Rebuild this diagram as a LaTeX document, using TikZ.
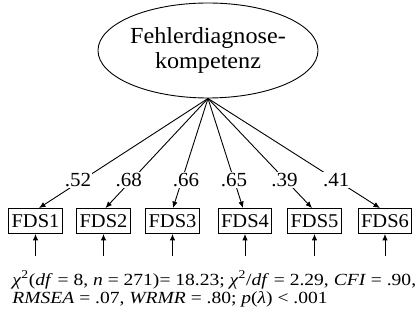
\documentclass[tikz,border=0pt]{standalone}
\usepackage{fontspec}
\setmainfont{Liberation Serif}[FakeStretch=1.05]
\newfontfamily\fitfont{Liberation Serif}[FakeStretch=1.15]
\usetikzlibrary{shapes.geometric,arrows.meta}
\begin{document}
\begin{tikzpicture}[x=1pt,y=-1pt,
  line width=0.9pt,
  tip/.style={-{Latex[length=6.5pt,width=5.5pt]}},
  latent/.style={draw,ellipse,minimum width=200pt,minimum height=95pt,inner sep=0pt,
    align=center,font=\fontsize{23}{25}\selectfont},
  indicator/.style={draw,rectangle,minimum height=25pt,inner xsep=3pt,inner ysep=0pt,
    font=\fontsize{19.5}{21}\selectfont},
  loading/.style={fill=white,inner sep=1pt,font=\fontsize{20}{22}\selectfont},
  fit/.style={anchor=base west,inner sep=0pt,font=\fitfont\fontsize{17}{19}\selectfont}]
\useasboundingbox (0,0) rectangle (420,320);

% latent factor
\node[latent] (lat) at (208,50.5) {Fehlerdiagnose-\\kompetenz};

% indicators
\node[indicator] (f1) at (35.5,221) {FDS1};
\node[indicator] (f2) at (103.5,221) {FDS2};
\node[indicator] (f3) at (172.5,221) {FDS3};
\node[indicator] (f4) at (245,221) {FDS4};
\node[indicator] (f5) at (314.5,221) {FDS5};
\node[indicator] (f6) at (385,221) {FDS6};

% factor loadings
\draw[tip] (lat.south) -- ([xshift=3.5pt]f1.north) node[loading,pos=0.745,xshift=-4pt] {.52};
\draw[tip] (lat.south) -- ([xshift=2pt]f2.north) node[loading,pos=0.745,xshift=-3pt] {.68};
\draw[tip] (lat.south) -- ([xshift=0.5pt]f3.north) node[loading,pos=0.745,xshift=4pt] {.66};
\draw[tip] (lat.south) -- ([xshift=-2pt]f4.north) node[loading,pos=0.745] {.65};
\draw[tip] (lat.south) -- ([xshift=-2.5pt]f5.north) node[loading,pos=0.745,xshift=-1pt] {.39};
\draw[tip] (lat.south) -- ([xshift=-5pt]f6.north) node[loading,pos=0.745] {.41};

% residual arrows
\foreach \i in {1,...,6}{
  \coordinate (u\i) at ([yshift=-22pt]f\i.south);
  \draw[tip] (u\i) -- (f\i.south);
}

% fit indices
\node[fit] (fit1) at (12,285) {\textit{χ}\textsuperscript{2}(\textit{df} = 8, \textit{n} = 271)= 18.23; \textit{χ}\textsuperscript{2}/\textit{df} = 2.29, \textit{CFI} = .90,};
\node[fit] (fit2) at (12,303) {\textit{RMSEA} = .07, \textit{WRMR} = .80; \textit{p}(\textit{λ}) < .001};
\end{tikzpicture}
\end{document}
